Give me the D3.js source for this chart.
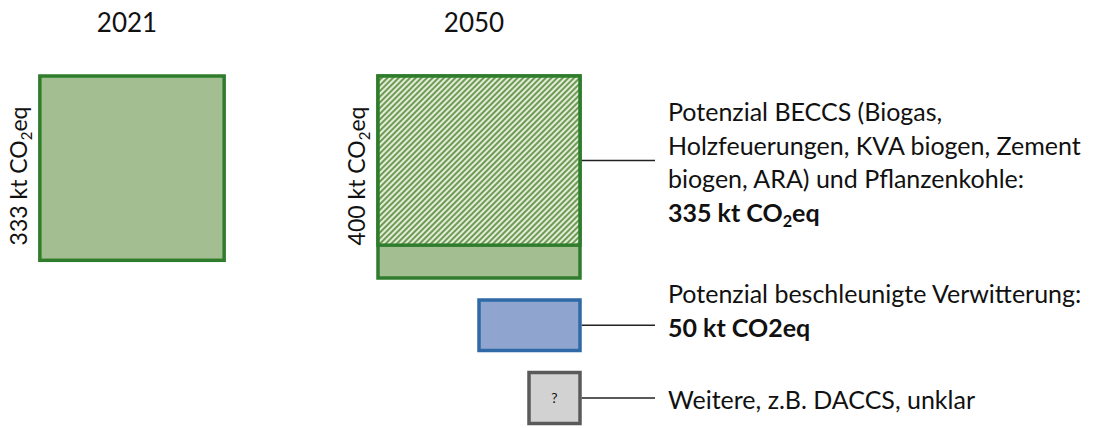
<!DOCTYPE html>
<html>
<head>
<meta charset="utf-8">
<script src="https://cdn.jsdelivr.net/npm/d3@7"></script>
<style>
  body { margin: 0; background: #fff; }
  svg text { font-family: Lato, "Open Sans", sans-serif; fill: #111; }
</style>
</head>
<body>
<div id="chart"></div>
<script>
// years and totals (kt CO2eq)
const years = ["2021", "2050"];
const totals = [333, 400];

// 2050 potentials, stacked under the 2050 box
const potNames = ["BECCS", "Verwitterung", "Weitere"];
const potValues = [335, 50, null];   // null = unknown ("?")

// label text for each potential (last line bold)
const potLabels = [
    ["Potenzial BECCS (Biogas,", "Holzfeuerungen, KVA biogen, Zement", "biogen, ARA) und Pflanzenkohle:"],
    ["Potenzial beschleunigte Verwitterung:"],
    ["Weitere, z.B. DACCS, unklar"]
];
const potBold = ["335 kt CO₂eq", "50 kt CO2eq", null];

const width = 1099, height = 428;
const boxTop = 76;

const svg = d3.select("#chart").append("svg")
    .attr("width", width)
    .attr("height", height);

// hatch pattern for the BECCS part
const defs = svg.append("defs");
const pat = defs.append("pattern")
    .attr("id", "hatch")
    .attr("patternUnits", "userSpaceOnUse")
    .attr("width", 4)
    .attr("height", 4)
    .attr("patternTransform", "rotate(45)");
pat.append("rect").attr("width", 4).attr("height", 4).attr("fill", "#e2edd8");
pat.append("line").attr("x1", 1).attr("y1", 0).attr("x2", 1).attr("y2", 4)
    .attr("stroke", "#6f9a55").attr("stroke-width", 2);

// column centres and box size (area ~ value)
const x = d3.scalePoint().domain(years).range([132, 479]);
const side = d3.scaleSqrt().domain([0, 400]).range([0, 202]);

const green = "#a3bf91", greenStroke = "#2f7d2c";
const sw = 3.5;

// helper: write "CO2eq" with subscript 2
function co2(sel, prefix) {
    sel.append("tspan").text(prefix + " kt CO");
    sel.append("tspan").attr("font-size", "0.65em").attr("dy", 5).text("2");
    sel.append("tspan").attr("dy", -5).text("eq");
}

years.forEach((yr, i) => {
    const s = side(totals[i]);
    const left = x(yr) - s / 2;

    // title
    svg.append("text")
        .attr("x", x(yr) - 5)
        .attr("y", 32)
        .attr("text-anchor", "middle")
        .attr("font-size", 26)
        .text(yr);

    // total box
    svg.append("rect")
        .attr("x", left).attr("y", boxTop)
        .attr("width", s).attr("height", s)
        .attr("fill", green)
        .attr("stroke", greenStroke)
        .attr("stroke-width", sw);

    // rotated total label
    const t = svg.append("text")
        .attr("transform", `translate(${left - 13},${boxTop + 100}) rotate(-90)`)
        .attr("text-anchor", "middle")
        .attr("font-size", 23);
    co2(t, totals[i]);
});

// 2050 box geometry
const s50 = side(totals[1]);
const left50 = x("2050") - s50 / 2;
const right50 = left50 + s50;

// hatched BECCS portion (top of the 2050 box)
const hBeccs = s50 * potValues[0] / totals[1];
svg.append("rect")
    .attr("x", left50).attr("y", boxTop)
    .attr("width", s50).attr("height", hBeccs)
    .attr("fill", "url(#hatch)")
    .attr("stroke", greenStroke)
    .attr("stroke-width", sw);

// sub boxes below, right aligned with the 2050 box
const gap = 22;
let yCur = boxTop + s50 + gap;
const boxInfo = [];
boxInfo.push({ mid: boxTop + hBeccs / 2 });

// accelerated weathering: half the width, same area scale
{
    const w = s50 / 2;
    const h = side(potValues[1]) ** 2 / w;
    svg.append("rect")
        .attr("x", right50 - w).attr("y", yCur)
        .attr("width", w).attr("height", h)
        .attr("fill", "#8fa5cf")
        .attr("stroke", "#2f6aa6")
        .attr("stroke-width", sw);
    boxInfo.push({ mid: yCur + h / 2 });
    yCur += h + gap;
}

// unknown: small grey box with "?"
{
    const w = 51;
    svg.append("rect")
        .attr("x", right50 - w).attr("y", yCur)
        .attr("width", w).attr("height", w)
        .attr("fill", "#d2d2d2")
        .attr("stroke", "#5a5a5a")
        .attr("stroke-width", sw);
    svg.append("text")
        .attr("x", right50 - w / 2)
        .attr("y", yCur + w / 2 + 5)
        .attr("text-anchor", "middle")
        .attr("font-size", 14)
        .text("?");
    boxInfo.push({ mid: yCur + w / 2 });
}

// connectors and labels
const textX = 668, lineH = 33.5, fs = 25;
const firstBaseline = [121, 303, 409];

potNames.forEach((name, i) => {
    svg.append("line")
        .attr("x1", right50 + sw / 2).attr("x2", 655)
        .attr("y1", boxInfo[i].mid).attr("y2", boxInfo[i].mid)
        .attr("stroke", "#222")
        .attr("stroke-width", 1.5);

    const lines = potLabels[i];
    lines.forEach((ln, j) => {
        svg.append("text")
            .attr("x", textX)
            .attr("y", firstBaseline[i] + j * lineH)
            .attr("font-size", fs)
            .text(ln);
    });
    if (potBold[i]) {
        const yb = firstBaseline[i] + lines.length * lineH;
        const t = svg.append("text")
            .attr("x", textX).attr("y", yb)
            .attr("font-size", fs)
            .attr("font-weight", "bold");
        if (i === 0) co2(t, "335");
        else t.text(potBold[i]);
    }
});
</script>
</body>
</html>
